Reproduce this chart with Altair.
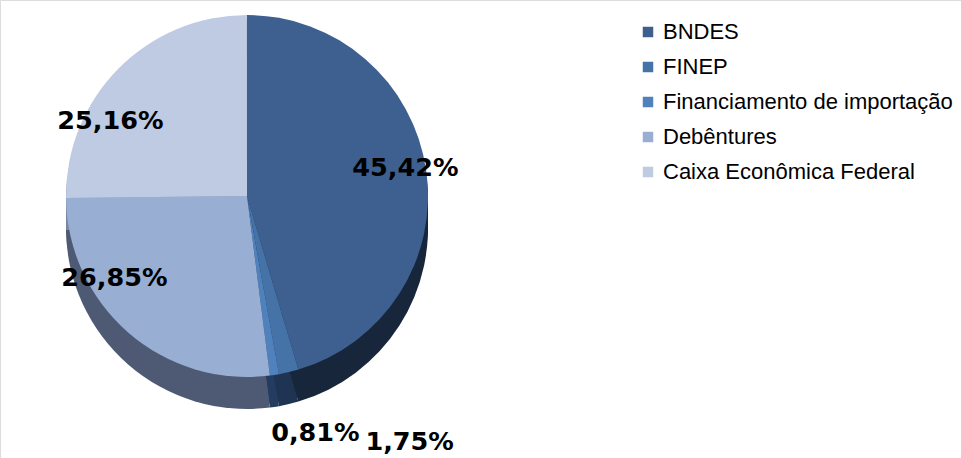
import altair as alt
import pandas as pd

categories = ["BNDES", "FINEP", "Financiamento de importação", "Debêntures", "Caixa Econômica Federal"]
values = [45.42, 1.75, 0.81, 26.85, 25.16]
top_colors = ["#3D6090", "#4573A8", "#4F81BD", "#98AED3", "#BFCBE3"]
side_colors = ["#17263A", "#1F3352", "#243C60", "#4E5A74", "#7A88A6"]

df = pd.DataFrame({
    "category": categories,
    "value": values,
    "idx": list(range(len(categories))),
    "label": [f"{v:.2f}%".replace(".", ",") for v in values],
    "side": side_colors,
})

CX, CY, R, DEPTH = 247, 196, 181, 33
TSCALE = alt.Scale(domain=[0, 100])

base = alt.Chart(df).transform_stack(
    stack="value", groupby=[], as_=["v0", "v1"], sort=[alt.SortField("idx", order="ascending")]
).transform_calculate(mid="(datum.v0 + datum.v1) / 2")

arc_enc = dict(theta=alt.Theta("v0:Q", scale=TSCALE), theta2="v1:Q")

layers = []
for off in range(4, DEPTH + 1, 4):
    layers.append(
        base.mark_arc(radius=R).encode(
            x=alt.value(CX), y=alt.value(CY + off),
            fill=alt.Fill("side:N", scale=None, legend=None),
            **arc_enc,
        )
    )

top = base.mark_arc(radius=R).encode(
    x=alt.value(CX), y=alt.value(CY),
    color=alt.Color(
        "category:N",
        scale=alt.Scale(domain=categories, range=top_colors),
        sort=categories,
        legend=alt.Legend(
            title=None, orient="none", legendX=637, legendY=21,
            symbolType="square", symbolSize=110, symbolStrokeWidth=0,
            labelFont="Liberation Sans", labelFontSize=22, labelColor="#000000",
            rowPadding=13, labelOffset=4, labelLimit=400,
        ),
    ),
    **arc_enc,
)
layers.append(top)

txt_style = dict(font="DejaVu Sans", fontWeight="bold", fontSize=25.5, color="#000000",
                 align="center", baseline="middle")

def label_layer(cat, r, dx, dy):
    return base.transform_filter(alt.datum.category == cat).mark_text(
        radius=r, dx=dx, dy=dy, **txt_style
    ).encode(
        x=alt.value(CX), y=alt.value(CY),
        theta=alt.Theta("mid:Q", scale=TSCALE),
        text="label:N",
    )

layers += [
    label_layer("BNDES", 160, 0, -5),
    label_layer("Caixa Econômica Federal", 150, -30, 30),
    label_layer("Debêntures", 150, -34, -31),
    label_layer("FINEP", 250, 105, 3),
    label_layer("Financiamento de importação", 240, 32, 0),
]

chart = alt.layer(*layers).properties(
    width=961, height=458, padding=0, autosize=alt.AutoSizeParams(type="none"),
).configure_view(stroke=None).configure(background="white")

chart.save("out.html", embed_options={"renderer": "svg", "actions": False})
